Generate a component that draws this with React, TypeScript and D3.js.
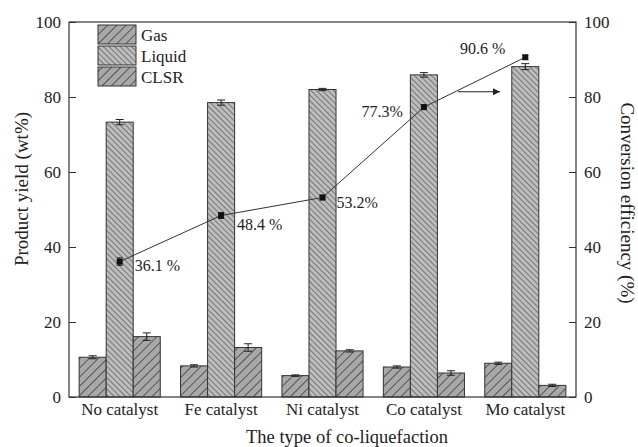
import React, { useEffect, useRef } from 'react';
import * as d3 from 'd3';

// data
const categories = ['No catalyst', 'Fe catalyst', 'Ni catalyst', 'Co catalyst', 'Mo catalyst'];
const seriesNames = ['Gas', 'Liquid', 'CLSR'];
const gas = [10.6, 8.3, 5.7, 8.0, 9.0];
const gasErr = [0.4, 0.3, 0.2, 0.3, 0.3];
const liquid = [73.3, 78.5, 82.0, 85.9, 88.1];
const liquidErr = [0.7, 0.7, 0.3, 0.6, 0.8];
const clsr = [16.1, 13.2, 12.3, 6.4, 3.1];
const clsrErr = [1.0, 1.0, 0.3, 0.6, 0.3];
const conversion = [36.1, 48.4, 53.2, 77.3, 90.6];
const conversionErr = [1.0, 0.8, 0.6, 0.6, 0.5];
const conversionLabels = ['36.1 %', '48.4 %', '53.2%', '77.3%', '90.6 %'];
const yTicks = [0, 20, 40, 60, 80, 100];

const FONT = '"Liberation Serif", "DejaVu Serif", serif';

function App() {
  const ref = useRef<SVGSVGElement>(null);

  useEffect(() => {
    const svg = d3.select(ref.current);
    svg.selectAll('*').remove();

    const left = 69, right = 576, top = 22, bottom = 397;

    const x0 = d3.scaleBand().domain(categories).range([left, right]).paddingInner(0.2).paddingOuter(0.1);
    const x1 = d3.scaleBand().domain(seriesNames).range([0, x0.bandwidth()]);
    const y = d3.scaleLinear().domain([0, 100]).range([bottom, top]);
    const y2 = d3.scaleLinear().domain([0, 100]).range([bottom, top]);

    // hatch patterns
    const defs = svg.append('defs');
    const fwd = defs.append('pattern').attr('id', 'fwd').attr('patternUnits', 'userSpaceOnUse')
      .attr('width', 6.5).attr('height', 6.5).attr('patternTransform', 'rotate(45)');
    fwd.append('rect').attr('width', 6.5).attr('height', 6.5).attr('fill', '#a8a8a8');
    fwd.append('line').attr('x1', 0).attr('y1', 0).attr('x2', 0).attr('y2', 6.5)
      .attr('stroke', '#3a3a3a').attr('stroke-width', 1.5);
    const back = defs.append('pattern').attr('id', 'back').attr('patternUnits', 'userSpaceOnUse')
      .attr('width', 4).attr('height', 4).attr('patternTransform', 'rotate(-45)');
    back.append('rect').attr('width', 4).attr('height', 4).attr('fill', '#bdbdbd');
    back.append('line').attr('x1', 0).attr('y1', 0).attr('x2', 0).attr('y2', 4)
      .attr('stroke', '#3a3a3a').attr('stroke-width', 1.1);
    const arrow = defs.append('marker').attr('id', 'arr').attr('viewBox', '0 0 10 10')
      .attr('refX', 10).attr('refY', 5).attr('markerWidth', 9).attr('markerHeight', 7)
      .attr('markerUnits', 'userSpaceOnUse').attr('orient', 'auto');
    arrow.append('path').attr('d', 'M0,0L10,5L0,10Z').attr('fill', '#222');

    const fills: Record<string, string> = { Gas: 'url(#fwd)', Liquid: 'url(#back)', CLSR: 'url(#fwd)' };
    const values: Record<string, number[]> = { Gas: gas, Liquid: liquid, CLSR: clsr };
    const errs: Record<string, number[]> = { Gas: gasErr, Liquid: liquidErr, CLSR: clsrErr };

    // bars
    categories.forEach((c, i) => {
      const g = svg.append('g').attr('transform', `translate(${x0(c)},0)`);
      seriesNames.forEach(s => {
        const v = values[s][i];
        const bx = x1(s)!;
        g.append('rect')
          .attr('x', bx).attr('y', y(v))
          .attr('width', x1.bandwidth()).attr('height', y(0) - y(v))
          .attr('fill', fills[s]).attr('stroke', '#333').attr('stroke-width', 1);
        const cx = bx + x1.bandwidth() / 2;
        const e = errs[s][i];
        g.append('line').attr('x1', cx).attr('x2', cx).attr('y1', y(v + e)).attr('y2', y(v - e))
          .attr('stroke', '#222').attr('stroke-width', 1);
        g.append('line').attr('x1', cx - 4).attr('x2', cx + 4).attr('y1', y(v + e)).attr('y2', y(v + e))
          .attr('stroke', '#222').attr('stroke-width', 1);
        g.append('line').attr('x1', cx - 4).attr('x2', cx + 4).attr('y1', y(v - e)).attr('y2', y(v - e))
          .attr('stroke', '#222').attr('stroke-width', 1);
      });
    });

    // frame
    svg.append('rect').attr('x', left).attr('y', top).attr('width', right - left).attr('height', bottom - top)
      .attr('fill', 'none').attr('stroke', '#333').attr('stroke-width', 1.2);

    // axes
    const leftAxis = svg.append('g').attr('transform', `translate(${left},0)`)
      .call(d3.axisRight(y).tickValues(yTicks).tickSize(7).tickFormat(() => ''));
    leftAxis.select('.domain').remove();
    leftAxis.selectAll('line').attr('stroke', '#333');
    svg.append('g').selectAll('text').data(yTicks).enter().append('text')
      .attr('x', left - 8).attr('y', d => y(d)).attr('dy', '0.35em').attr('text-anchor', 'end')
      .attr('font-family', FONT).attr('font-size', 17).attr('fill', '#222').text(d => d);

    const rightAxis = svg.append('g').attr('transform', `translate(${right},0)`)
      .call(d3.axisLeft(y2).tickValues(yTicks).tickSize(7).tickFormat(() => ''));
    rightAxis.select('.domain').remove();
    rightAxis.selectAll('line').attr('stroke', '#333');
    svg.append('g').selectAll('text').data(yTicks).enter().append('text')
      .attr('x', right + 8).attr('y', d => y2(d)).attr('dy', '0.35em').attr('text-anchor', 'start')
      .attr('font-family', FONT).attr('font-size', 17).attr('fill', '#222').text(d => d);

    // category labels
    svg.append('g').selectAll('text').data(categories).enter().append('text')
      .attr('x', d => x0(d)! + x0.bandwidth() / 2).attr('y', 415).attr('text-anchor', 'middle')
      .attr('font-family', FONT).attr('font-size', 17).attr('fill', '#222').text(d => d);

    svg.append('text').attr('x', 347).attr('y', 443).attr('text-anchor', 'middle')
      .attr('font-family', FONT).attr('font-size', 18.5).attr('fill', '#222').text('The type of co-liquefaction');
    svg.append('text').attr('transform', 'translate(28,189) rotate(-90)')
      .attr('text-anchor', 'middle').attr('font-family', FONT).attr('font-size', 19).attr('fill', '#222')
      .text('Product yield (wt%)');
    svg.append('text').attr('transform', 'translate(621,203) rotate(90)')
      .attr('text-anchor', 'middle').attr('font-family', FONT).attr('font-size', 19).attr('fill', '#222')
      .text('Conversion efficiency (%)');

    // conversion line
    const px = (i: number) => x0(categories[i])! + x1('Liquid')! + x1.bandwidth() / 2;
    const line = d3.line<number>().x((_, i) => px(i)).y(d => y2(d));
    svg.append('path').datum(conversion).attr('d', line).attr('fill', 'none')
      .attr('stroke', '#333').attr('stroke-width', 1);
    conversion.forEach((v, i) => {
      const cx = px(i);
      const e = conversionErr[i];
      svg.append('line').attr('x1', cx).attr('x2', cx).attr('y1', y2(v + e)).attr('y2', y2(v - e))
        .attr('stroke', '#222');
      svg.append('line').attr('x1', cx - 3).attr('x2', cx + 3).attr('y1', y2(v + e)).attr('y2', y2(v + e))
        .attr('stroke', '#222');
      svg.append('line').attr('x1', cx - 3).attr('x2', cx + 3).attr('y1', y2(v - e)).attr('y2', y2(v - e))
        .attr('stroke', '#222');
      svg.append('rect').attr('x', cx - 3).attr('y', y2(v) - 3).attr('width', 6).attr('height', 6)
        .attr('fill', '#111');
    });
    // point labels: offsets relative to each point
    const labelOffsets: [number, number, string][] = [
      [15, 9, 'start'], [16, 14, 'start'], [14, 10, 'start'], [-21, 10, 'end'], [-20, -3, 'end'],
    ];
    conversion.forEach((v, i) => {
      const [dx, dy, anchor] = labelOffsets[i];
      svg.append('text').attr('x', px(i) + dx).attr('y', y2(v) + dy).attr('text-anchor', anchor)
        .attr('font-family', FONT).attr('font-size', 16).attr('fill', '#222').text(conversionLabels[i]);
    });

    // arrow pointing to the right axis
    svg.append('line').attr('x1', 458).attr('x2', 500).attr('y1', y2(81.4)).attr('y2', y2(81.4))
      .attr('stroke', '#222').attr('stroke-width', 1).attr('marker-end', 'url(#arr)');

    // legend
    const lg = svg.append('g').attr('transform', 'translate(98,25)');
    seriesNames.forEach((s, i) => {
      lg.append('rect').attr('x', 0).attr('y', i * 21).attr('width', 38).attr('height', 19)
        .attr('fill', fills[s]).attr('stroke', '#333').attr('stroke-width', 1);
      lg.append('text').attr('x', 43).attr('y', i * 21 + 10).attr('dy', '0.35em')
        .attr('font-family', FONT).attr('font-size', 17).attr('fill', '#222').text(s);
    });
  }, []);

  return (
    <svg ref={ref} width={638} height={447}
      style={{ position: 'absolute', left: 0, top: 0, background: '#fff' }} />
  );
}

export default App;
